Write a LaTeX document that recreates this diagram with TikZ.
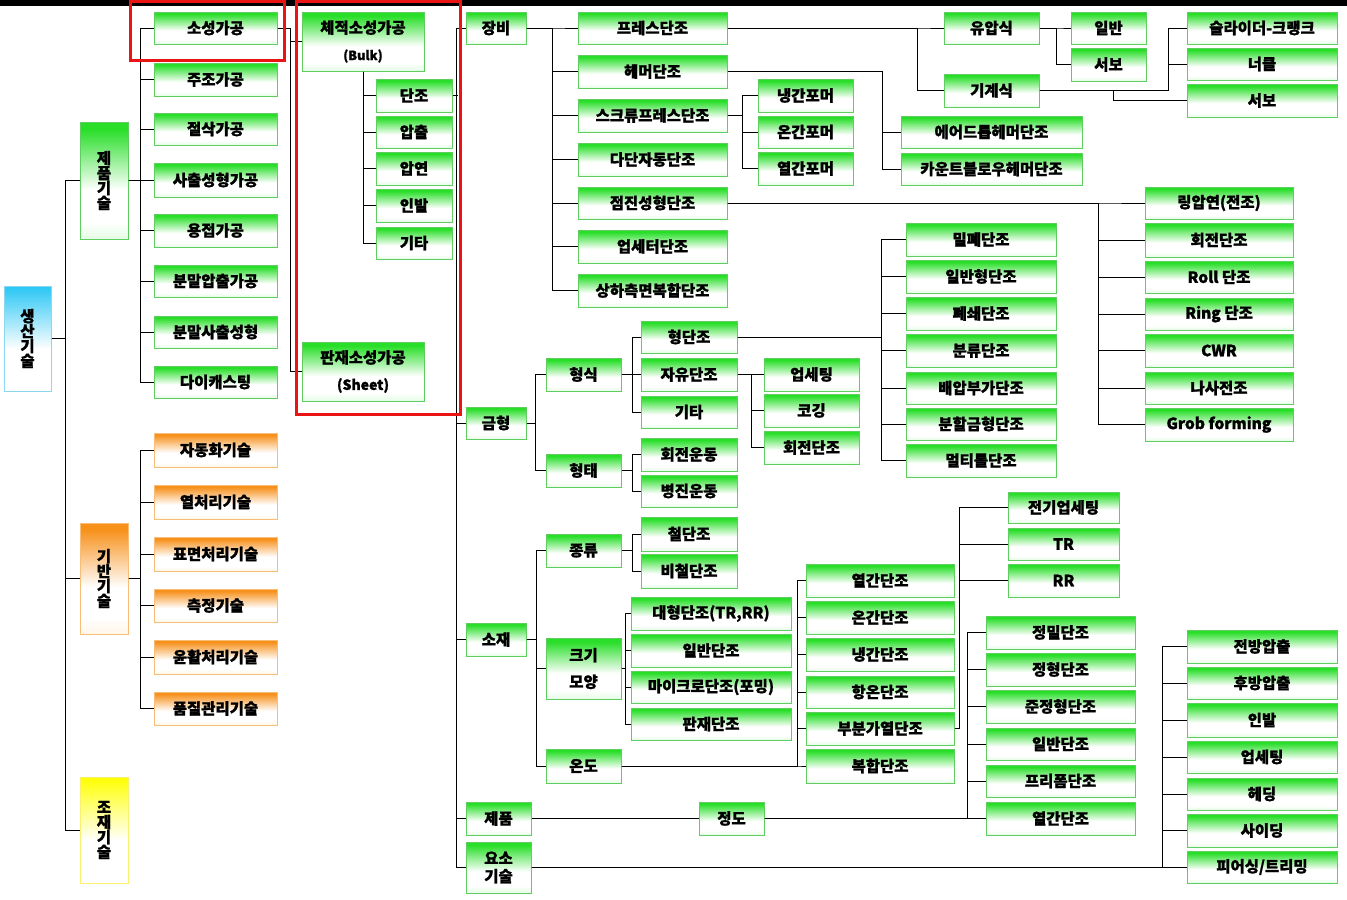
\documentclass[tikz,border=0pt]{standalone}
\usepackage{fontspec}
\setmainfont{Noto Sans CJK KR}[BoldFeatures={FakeBold=1.2}]
\definecolor{gtop}{RGB}{40,222,40}
\definecolor{gbot}{RGB}{228,252,228}
\definecolor{gbord}{RGB}{95,205,95}
\definecolor{otop}{RGB}{247,145,28}
\definecolor{obot}{RGB}{255,246,232}
\definecolor{obord}{RGB}{248,190,120}
\definecolor{ctop}{RGB}{40,198,245}
\definecolor{cbord}{RGB}{140,215,240}
\definecolor{ytop}{RGB}{255,255,0}
\definecolor{ybord}{RGB}{250,240,110}
\definecolor{redbox}{RGB}{235,20,20}
\pgfdeclareverticalshading{gsh}{100bp}{color(0bp)=(gbot); color(25bp)=(gbot); color(32bp)=(white); color(46bp)=(white); color(72bp)=(gtop); color(100bp)=(gtop)}
\pgfdeclareverticalshading{osh}{100bp}{color(0bp)=(obot); color(25bp)=(obot); color(32bp)=(white); color(46bp)=(white); color(72bp)=(otop); color(100bp)=(otop)}
\pgfdeclareverticalshading{csh}{100bp}{color(0bp)=(white); color(25bp)=(white); color(45bp)=(white); color(75bp)=(ctop); color(100bp)=(ctop)}
\pgfdeclareverticalshading{ysh}{100bp}{color(0bp)=(white); color(25bp)=(white); color(45bp)=(white); color(75bp)=(ytop); color(100bp)=(ytop)}
\newcommand\mkbox[7]{\node[#1, minimum width={(#4-#2)*0.75pt}, minimum height={(#5-#3)*0.75pt}] (#6) at ({(#2+#4)/2},{(#3+#5)/2}) {#7};}
\tikzset{
  base/.style={shade, line width=0.75pt, inner sep=0pt, align=center, text=black, font=\bfseries\fontsize{11.6}{13}\selectfont},
  gbox/.style={base, shading=gsh, draw=gbord},
  obox/.style={base, shading=osh, draw=obord},
  cbox/.style={base, shading=csh, draw=cbord, font=\bfseries\fontsize{11.6}{11.2}\selectfont},
  vgbox/.style={gbox, font=\bfseries\fontsize{11.6}{11.2}\selectfont},
  vobox/.style={obox, font=\bfseries\fontsize{11.6}{11.2}\selectfont},
  ybox/.style={base, shading=ysh, draw=ybord, font=\bfseries\fontsize{11.6}{11.2}\selectfont},
  twobox/.style={gbox, font=\bfseries\fontsize{11.6}{20}\selectfont},
  ln/.style={draw=black, line width=0.75pt},
  redframe/.style={draw=redbox, line width=2.25pt}
}
\begin{document}
\begin{tikzpicture}[x=0.75pt,y=-0.75pt]
\useasboundingbox (0,0) rectangle (1347,900);
\fill[white] (0,0) rectangle (1347,900);
\fill[black] (0,0) rectangle (1347,5.5);
% left column
\mkbox{cbox}{4}{286}{51}{391}{sangsan}{생\\산\\기\\술}
\mkbox{vgbox}{80}{122}{128}{239}{jepumgisul}{제\\품\\기\\술}
\mkbox{vobox}{80}{523}{128}{634}{giban}{기\\반\\기\\술}
\mkbox{ybox}{80}{777}{128}{883}{jojae}{조\\재\\기\\술}
% product technologies
\mkbox{gbox}{154}{12}{277}{44}{sosung}{소성가공}
\mkbox{gbox}{154}{63}{277}{96}{juzo}{주조가공}
\mkbox{gbox}{154}{113}{277}{145}{jeolsak}{절삭가공}
\mkbox{gbox}{154}{163}{277}{197}{sachul}{사출성형가공}
\mkbox{gbox}{154}{214}{277}{247}{yongjeop}{용접가공}
\mkbox{gbox}{154}{265}{277}{297}{bunmalA}{분말압출가공}
\mkbox{gbox}{154}{316}{277}{348}{bunmalB}{분말사출성형}
\mkbox{gbox}{154}{366}{277}{398}{diecast}{다이캐스팅}
% base technologies
\mkbox{obox}{154}{433}{277}{467}{jadong}{자동화기술}
\mkbox{obox}{154}{485}{277}{519}{yeolcheori}{열처리기술}
\mkbox{obox}{154}{537}{277}{571}{pyomyeon}{표면처리기술}
\mkbox{obox}{154}{589}{277}{622}{cheukjeong}{측정기술}
\mkbox{obox}{154}{640}{277}{674}{yunhwal}{윤활처리기술}
\mkbox{obox}{154}{692}{277}{725}{pumjil}{품질관리기술}
% bulk / sheet
\mkbox{twobox}{302}{12}{424}{71}{bulk}{체적소성가공\\{\fontsize{9.5}{11}\selectfont (Bulk)}}
\mkbox{twobox}{302}{342}{424}{401}{sheet}{판재소성가공\\{\fontsize{10.5}{11}\selectfont (Sheet)}}
\mkbox{gbox}{376}{79}{452}{112}{danjo}{단조}
\mkbox{gbox}{376}{116}{452}{148}{apchul}{압출}
\mkbox{gbox}{376}{152}{452}{185}{apyeon}{압연}
\mkbox{gbox}{376}{189}{452}{222}{inbalA}{인발}
\mkbox{gbox}{376}{227}{452}{259}{gitaA}{기타}
% main categories
\mkbox{gbox}{466}{12}{526}{44}{jangbi}{장비}
\mkbox{gbox}{466}{407}{526}{439}{geumhyeong}{금형}
\mkbox{gbox}{466}{623}{526}{656}{soje}{소재}
\mkbox{gbox}{466}{802}{531}{835}{jepum}{제품}
\node[gbox, font=\bfseries\fontsize{11.6}{13.5}\selectfont, minimum width={65*0.75pt}, minimum height={51*0.75pt}] (yoso) at (498.5,867.5) {요소\\기술};
% equipment
\mkbox{gbox}{578}{12}{727}{44}{press}{프레스단조}
\mkbox{gbox}{578}{55}{727}{88}{hammer}{헤머단조}
\mkbox{gbox}{578}{99}{727}{132}{screw}{스크류프레스단조}
\mkbox{gbox}{578}{143}{727}{176}{dadan}{다단자동단조}
\mkbox{gbox}{578}{187}{727}{219}{jeomjin}{점진성형단조}
\mkbox{gbox}{578}{230}{727}{263}{upsetter}{업세터단조}
\mkbox{gbox}{578}{274}{727}{307}{sangha}{상하측면복합단조}
\mkbox{gbox}{758}{79}{853}{112}{formerA}{냉간포머}
\mkbox{gbox}{758}{116}{853}{148}{formerB}{온간포머}
\mkbox{gbox}{758}{152}{853}{185}{formerC}{열간포머}
\mkbox{gbox}{901}{116}{1082}{148}{airdrop}{에어드롭헤머단조}
\mkbox{gbox}{901}{153}{1082}{185}{counter}{카운트블로우헤머단조}
\mkbox{gbox}{944}{12}{1039}{44}{yuap}{유압식}
\mkbox{gbox}{944}{74}{1039}{107}{gigye}{기계식}
\mkbox{gbox}{1071}{12}{1146}{44}{ilban}{일반}
\mkbox{gbox}{1071}{48}{1146}{81}{servoA}{서보}
\mkbox{gbox}{1187}{12}{1337}{44}{slider}{슬라이더-크랭크}
\mkbox{gbox}{1187}{48}{1337}{80}{knuckle}{너클}
\mkbox{gbox}{1187}{84}{1337}{117}{servoB}{서보}
\mkbox{gbox}{1145}{187}{1293}{219}{ringap}{링압연(전조)}
\mkbox{gbox}{1145}{223}{1293}{257}{hoejeonA}{회전단조}
\mkbox{gbox}{1145}{261}{1293}{293}{roll}{Roll 단조}
\mkbox{gbox}{1145}{298}{1293}{330}{ring}{Ring 단조}
\mkbox{gbox}{1145}{334}{1293}{367}{cwr}{CWR}
\mkbox{gbox}{1145}{372}{1293}{404}{nasa}{나사전조}
\mkbox{gbox}{1145}{408}{1293}{441}{grob}{Grob forming}
% dies
\mkbox{gbox}{546}{358}{621}{391}{hyeongsik}{형식}
\mkbox{gbox}{546}{454}{621}{487}{hyeongtae}{형태}
\mkbox{gbox}{641}{321}{737}{353}{hyeongdanjo}{형단조}
\mkbox{gbox}{641}{358}{737}{391}{jayu}{자유단조}
\mkbox{gbox}{641}{396}{737}{428}{gitaB}{기타}
\mkbox{gbox}{641}{438}{737}{471}{rotmove}{회전운동}
\mkbox{gbox}{641}{475}{737}{507}{linmove}{병진운동}
\mkbox{gbox}{764}{358}{859}{391}{upsetA}{업세팅}
\mkbox{gbox}{764}{394}{859}{427}{coging}{코깅}
\mkbox{gbox}{764}{431}{859}{464}{hoejeonB}{회전단조}
\mkbox{gbox}{906}{223}{1056}{256}{milpye}{밀폐단조}
\mkbox{gbox}{906}{260}{1056}{293}{ilbanhyeong}{일반형단조}
\mkbox{gbox}{906}{297}{1056}{330}{pyeswae}{폐쇄단조}
\mkbox{gbox}{906}{334}{1056}{367}{bunryu}{분류단조}
\mkbox{gbox}{906}{372}{1056}{404}{baeap}{배압부가단조}
\mkbox{gbox}{906}{408}{1056}{440}{bunhal}{분할금형단조}
\mkbox{gbox}{906}{444}{1056}{477}{multiroll}{멀티롤단조}
% material
\mkbox{gbox}{546}{534}{621}{567}{jongryu}{종류}
\node[gbox, font=\bfseries\fontsize{11.6}{20}\selectfont, minimum width={75*0.75pt}, minimum height={61*0.75pt}] (keugi) at (583.5,668.5) {크기\\모양};
\mkbox{gbox}{546}{749}{621}{783}{ondo}{온도}
\mkbox{gbox}{641}{517}{737}{551}{cheol}{철단조}
\mkbox{gbox}{641}{554}{737}{588}{bicheol}{비철단조}
\mkbox{gbox}{631}{597}{791}{630}{daehyeong}{대형단조(TR,RR)}
\mkbox{gbox}{631}{634}{791}{667}{ilbandanjoA}{일반단조}
\mkbox{gbox}{631}{671}{791}{703}{micro}{마이크로단조(포밍)}
\mkbox{gbox}{631}{708}{791}{740}{panjae}{판재단조}
\mkbox{gbox}{806}{564}{954}{597}{yeolganA}{열간단조}
\mkbox{gbox}{806}{601}{954}{634}{ongan}{온간단조}
\mkbox{gbox}{806}{638}{954}{671}{naenggan}{냉간단조}
\mkbox{gbox}{806}{676}{954}{708}{hangon}{항온단조}
\mkbox{gbox}{806}{712}{954}{745}{bubun}{부분가열단조}
\mkbox{gbox}{806}{749}{954}{783}{bokhap}{복합단조}
\mkbox{gbox}{1008}{492}{1119}{523}{jeongi}{전기업세팅}
\mkbox{gbox}{1008}{528}{1119}{560}{tr}{TR}
\mkbox{gbox}{1008}{564}{1119}{597}{rr}{RR}
% product
\mkbox{gbox}{699}{802}{764}{835}{jeongdo}{정도}
\mkbox{gbox}{986}{616}{1135}{649}{jeongmil}{정밀단조}
\mkbox{gbox}{986}{653}{1135}{686}{jeonghyeong}{정형단조}
\mkbox{gbox}{986}{690}{1135}{723}{junjeong}{준정형단조}
\mkbox{gbox}{986}{728}{1135}{760}{ilbandanjoB}{일반단조}
\mkbox{gbox}{986}{765}{1135}{797}{preform}{프리폼단조}
\mkbox{gbox}{986}{802}{1135}{835}{yeolganB}{열간단조}
% element technology
\mkbox{gbox}{1187}{630}{1337}{663}{jeonbang}{전방압출}
\mkbox{gbox}{1187}{667}{1337}{699}{hubang}{후방압출}
\mkbox{gbox}{1187}{703}{1337}{737}{inbalB}{인발}
\mkbox{gbox}{1187}{741}{1337}{773}{upsetB}{업세팅}
\mkbox{gbox}{1187}{778}{1337}{810}{heading}{헤딩}
\mkbox{gbox}{1187}{814}{1337}{847}{siding}{사이딩}
\mkbox{gbox}{1187}{851}{1337}{883}{piercing}{피어싱/트리밍}
% connectors
\foreach \c in {jepumgisul,giban,jojae} \draw[ln] (sangsan.east) -- ++(14,0) |- (\c.west);
\foreach \c in {sosung,juzo,jeolsak,sachul,yongjeop,bunmalA,bunmalB,diecast} \draw[ln] (jepumgisul.east) -- ++(12,0) |- (\c.west);
\foreach \c in {jadong,yeolcheori,pyomyeon,cheukjeong,yunhwal,pumjil} \draw[ln] (giban.east) -- ++(12,0) |- (\c.west);
\foreach \c in {bulk,sheet} \draw[ln] (sosung.east) -- ++(13,0) |- (\c.west);
\foreach \c in {danjo,apchul,apyeon,inbalA,gitaA} \draw[ln] (bulk.south) |- (\c.west);
\draw[ln] (jangbi.west) -- ++(-9,0) |- (yoso.west);
\foreach \c in {geumhyeong,soje,jepum} \draw[ln] (\c.west) -- ++(-9,0);
\draw[ln] (danjo.east) -- ++(5,0);
\foreach \c in {press,hammer,screw,dadan,jeomjin,upsetter,sangha} \draw[ln] (jangbi.east) -- ++(26,0) |- (\c.west);
\foreach \c in {yuap,gigye} \draw[ln] (press.east) -- ++(190,0) |- (\c.west);
\foreach \c in {ilban,servoA} \draw[ln] (yuap.east) -- ++(17,0) |- (\c.west);
\foreach \c in {slider,knuckle} \draw[ln] (gigye.east) -- ++(129,0) |- (\c.west);
\draw[ln] (gigye.east) -- ++(74,0) |- (servoB.west);
\foreach \c in {airdrop,counter} \draw[ln] (hammer.east) -- ++(155,0) |- (\c.west);
\foreach \c in {formerA,formerB,formerC} \draw[ln] (screw.east) -- ++(15,0) |- (\c.west);
\foreach \c in {ringap,hoejeonA,roll,ring,cwr,nasa,grob} \draw[ln] (jeomjin.east) -- ++(371,0) |- (\c.west);
\foreach \c in {hyeongsik,hyeongtae} \draw[ln] (geumhyeong.east) -- ++(9,0) |- (\c.west);
\foreach \c in {hyeongdanjo,jayu,gitaB} \draw[ln] (hyeongsik.east) -- ++(11,0) |- (\c.west);
\foreach \c in {rotmove,linmove} \draw[ln] (hyeongtae.east) -- ++(11,0) |- (\c.west);
\foreach \c in {upsetA,coging,hoejeonB} \draw[ln] (jayu.east) -- ++(14,0) |- (\c.west);
\foreach \c in {milpye,ilbanhyeong,pyeswae,bunryu,baeap,bunhal,multiroll} \draw[ln] (hyeongdanjo.east) -- ++(144,0) |- (\c.west);
\foreach \c in {jongryu,keugi,ondo} \draw[ln] (soje.east) -- ++(10,0) |- (\c.west);
\foreach \c in {cheol,bicheol} \draw[ln] (jongryu.east) -- ++(11,0) |- (\c.west);
\foreach \c in {daehyeong,ilbandanjoA,micro,panjae} \draw[ln] (keugi.east) -- ++(4,0) |- (\c.west);
\foreach \c in {yeolganA,ongan,naenggan,hangon,bubun,bokhap} \draw[ln] (ondo.east) -- ++(176,0) |- (\c.west);
\foreach \c in {jeongi,tr,rr} \draw[ln] (bubun.east) -- ++(5,0) |- (\c.west);
\draw[ln] (jepum.east) -- (jeongdo.west);
\foreach \c in {jeongmil,jeonghyeong,junjeong,ilbandanjoB,preform,yeolganB} \draw[ln] (jeongdo.east) -- ++(203,0) |- (\c.west);
\foreach \c in {jeonbang,hubang,inbalB,upsetB,heading,siding,piercing} \draw[ln] (yoso.east) -- ++(631,0) |- (\c.west);
% red frames
\draw[redframe] (130.5,1.5) rectangle (284.5,60.5);
\draw[redframe] (296.5,1.5) rectangle (460.5,414.5);
\end{tikzpicture}
\end{document}
